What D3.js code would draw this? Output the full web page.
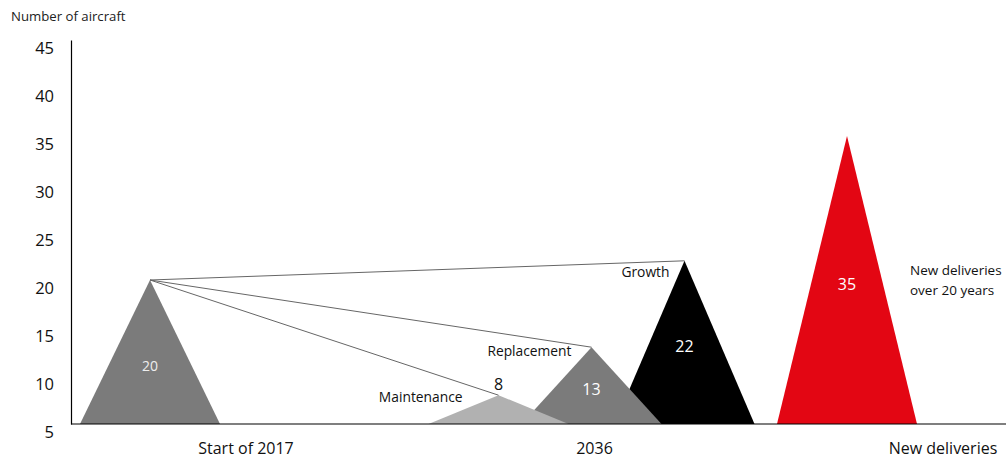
<!DOCTYPE html>
<html><head><meta charset="utf-8">
<script src="https://cdn.jsdelivr.net/npm/d3@7"></script>
<style>body{margin:0;background:#fff;} svg{display:block;font-family:"Open Sans",sans-serif;}</style>
</head><body><svg id="c" width="1006" height="459"></svg>
<script>
const categories = ["Start of 2017", "2036", "New deliveries"];
const itemNames = ["Fleet", "Maintenance", "Replacement", "Growth", "New deliveries over 20 years"];
const itemCategory = ["Start of 2017", "2036", "2036", "2036", "New deliveries"];
const itemSlot = [0, 0, 1, 2, 0];
const itemValues = [20, 8, 13, 22, 35];
const yTicks = [5, 10, 15, 20, 25, 30, 35, 40, 45];

const svg = d3.select("#c");
const W = 1006, baseY = 424, axisX = 71;
const y = d3.scaleLinear().domain([5, 45]).range([baseY, 40]);
const x = d3.scalePoint().domain(categories).range([246, 943]);
const slotStep = 93, slotOffset = -96, halfW = 70;
const cx = i => x(itemCategory[i]) + slotOffset + itemSlot[i] * slotStep;

const fills = ["#7b7b7b", "#b1b1b1", "#7b7b7b", "#000000", "#e30613"];
const items = itemValues.map((v, i) => ({i, v, name: itemNames[i], cx: cx(i), apex: y(v), fill: fills[i]}));

// axis title
svg.append("text").attr("x", 11).attr("y", 21).attr("font-size", 13.2).attr("fill", "#222").text("Number of aircraft");

// y axis
const yAxis = svg.append("g").attr("transform", `translate(${axisX},0)`)
  .call(d3.axisLeft(y).tickValues(yTicks).tickSize(0).tickPadding(17));
yAxis.select(".domain").attr("stroke", "#000").attr("stroke-width", 1.2);
yAxis.selectAll("text").attr("font-size", 16.5).attr("font-family", "'Open Sans',sans-serif").attr("fill", "#111").attr("dy", "0.32em").attr("transform", "translate(0,8)");

// triangles: draw order fleet, growth, replacement, maintenance, new
const order = [0, 3, 2, 1, 4];
svg.append("g").selectAll("path").data(order.map(k => items[k])).join("path")
  .attr("d", d => `M${d.cx - halfW},${baseY}L${d.cx},${d.apex}L${d.cx + halfW},${baseY}Z`)
  .attr("fill", d => d.fill);

// connecting lines from fleet apex
const src = items[0];
svg.append("g").selectAll("line").data([items[3], items[2], items[1]]).join("line")
  .attr("x1", src.cx).attr("y1", src.apex).attr("x2", d => d.cx).attr("y2", d => d.apex)
  .attr("stroke", "#666").attr("stroke-width", 1);

// x axis baseline
svg.append("line").attr("x1", axisX).attr("x2", W).attr("y1", baseY).attr("y2", baseY).attr("stroke", "#000").attr("stroke-width", 1.2);

// x labels
svg.append("g").selectAll("text").data(categories).join("text")
  .attr("x", d => x(d)).attr("y", 454).attr("text-anchor", "middle").attr("font-size", 16).attr("fill", "#111").text(d => d);

// value labels inside triangles
const inner = [items[0], items[2], items[3], items[4]];
svg.append("g").selectAll("text").data(inner).join("text")
  .attr("x", d => d.cx).attr("y", d => baseY - (baseY - d.apex) * 0.5 + (d.i === 0 ? 14 : 4)).attr("dy", "0.35em")
  .attr("text-anchor", "middle").attr("font-size", d => d.i === 0 ? 14 : 16)
  .attr("fill", d => d.i === 0 ? "#eee" : "#fff").text(d => d.v);

// maintenance value above apex
svg.append("text").attr("x", items[1].cx).attr("y", items[1].apex - 11).attr("dy", "0.35em")
  .attr("text-anchor", "middle").attr("font-size", 16).attr("fill", "#111").text(items[1].v);

// series names
const nameLbl = [
  {t: "Maintenance", x: items[1].cx - 36, y: items[1].apex + 2},
  {t: "Replacement", x: items[2].cx - 20, y: items[2].apex + 4},
  {t: "Growth", x: items[3].cx - 15, y: items[3].apex + 11}
];
svg.append("g").selectAll("text").data(nameLbl).join("text")
  .attr("x", d => d.x).attr("y", d => d.y).attr("dy", "0.35em").attr("text-anchor", "end")
  .attr("font-size", 13.8).attr("fill", "#111").text(d => d.t);

const nd = svg.append("text").attr("font-size", 13.5).attr("fill", "#111");
nd.append("tspan").attr("x", items[4].cx + 63).attr("y", 275).text("New deliveries");
nd.append("tspan").attr("x", items[4].cx + 63).attr("y", 295).text("over 20 years");
</script></body></html>
